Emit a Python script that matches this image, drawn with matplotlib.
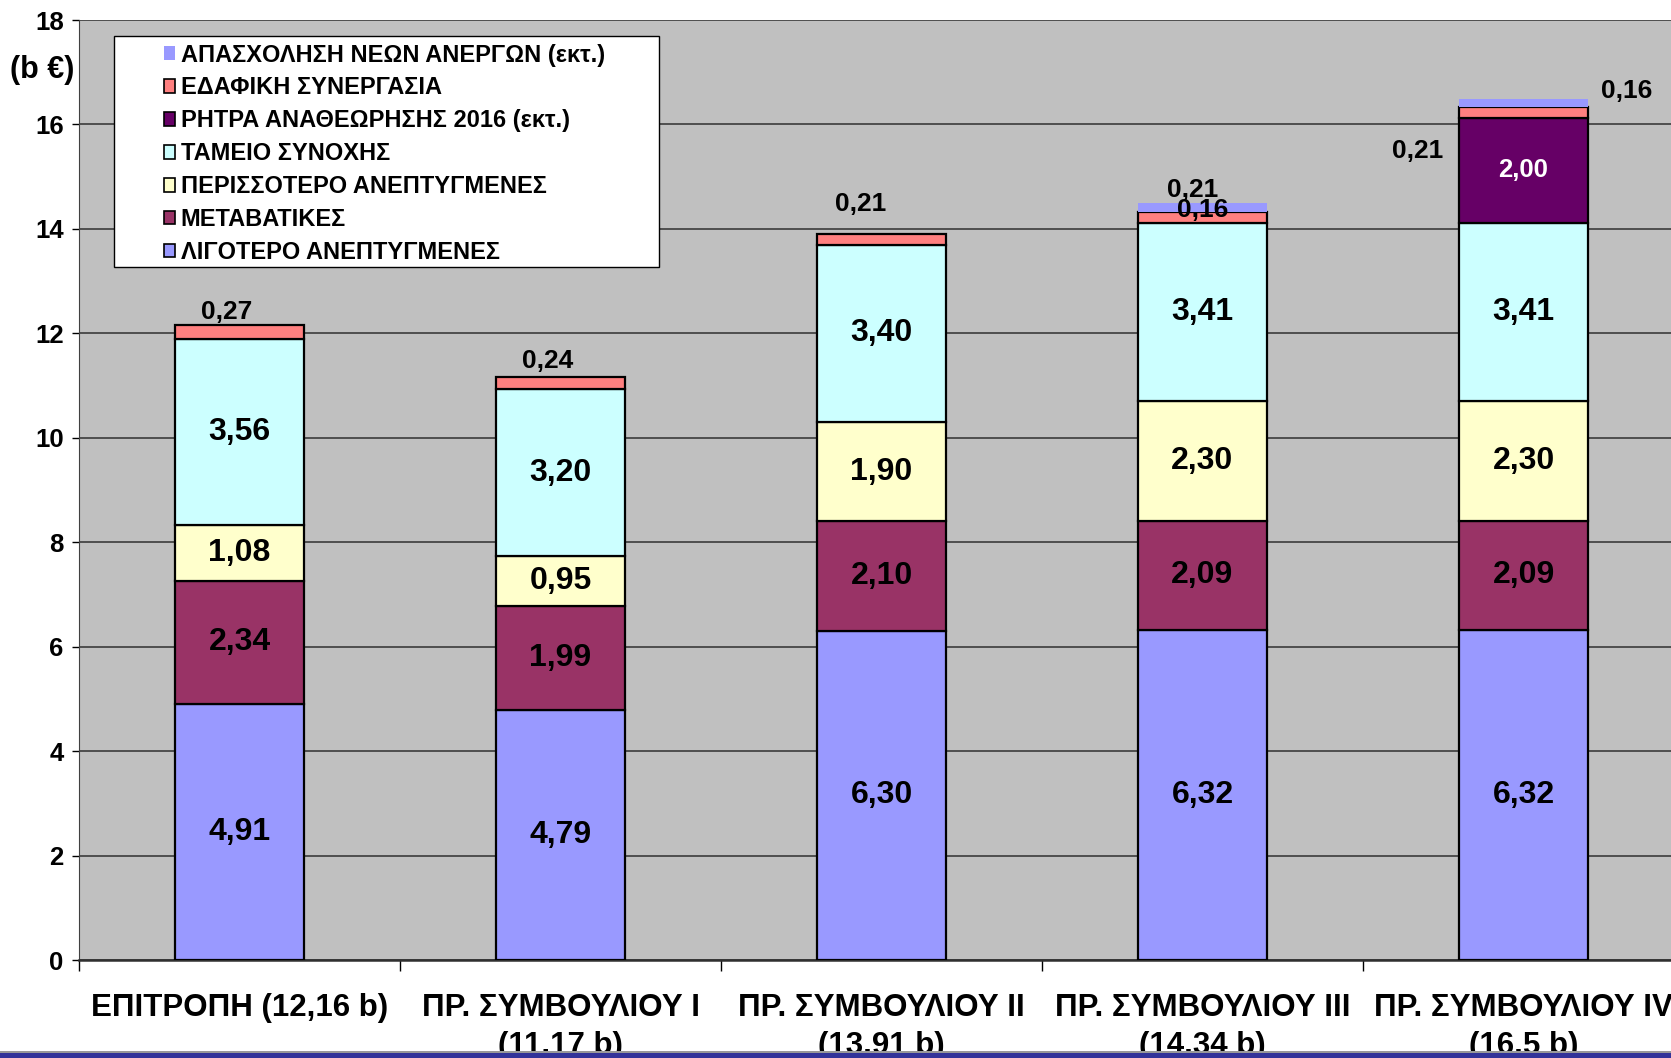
import numpy as np
import matplotlib.pyplot as plt
from matplotlib.patches import Rectangle, Patch

plt.rcParams['font.family'] = ['Liberation Sans', 'DejaVu Sans']
plt.rcParams['font.weight'] = 'bold'

categories = ['ΕΠΙΤΡΟΠΗ (12,16 b)', 'ΠΡ. ΣΥΜΒΟΥΛΙΟΥ I\n(11,17 b)',
              'ΠΡ. ΣΥΜΒΟΥΛΙΟΥ II\n(13,91 b)', 'ΠΡ. ΣΥΜΒΟΥΛΙΟΥ III\n(14,34 b)',
              'ΠΡ. ΣΥΜΒΟΥΛΙΟΥ IV\n(16,5 b)']
less_dev = [4.91, 4.79, 6.30, 6.32, 6.32]
transition = [2.34, 1.99, 2.10, 2.09, 2.09]
more_dev = [1.08, 0.95, 1.90, 2.30, 2.30]
cohesion = [3.56, 3.20, 3.40, 3.41, 3.41]
review = [0, 0, 0, 0, 2.00]
territorial = [0.27, 0.24, 0.21, 0.21, 0.21]
youth = [0, 0, 0, 0.16, 0.16]

names = ['ΛΙΓΟΤΕΡΟ ΑΝΕΠΤΥΓΜΕΝΕΣ', 'ΜΕΤΑΒΑΤΙΚΕΣ', 'ΠΕΡΙΣΣΟΤΕΡΟ ΑΝΕΠΤΥΓΜΕΝΕΣ',
         'ΤΑΜΕΙΟ ΣΥΝΟΧΗΣ', 'ΡΗΤΡΑ ΑΝΑΘΕΩΡΗΣΗΣ 2016 (εκτ.)', 'ΕΔΑΦΙΚΗ ΣΥΝΕΡΓΑΣΙΑ',
         'ΑΠΑΣΧΟΛΗΣΗ ΝΕΩΝ ΑΝΕΡΓΩΝ (εκτ.)']
colors = ['#9999FF', '#993366', '#FFFFCC', '#CCFFFF', '#660066', '#FF8080', '#9999FF']

W, H = 1671, 1058
fig = plt.figure(figsize=(W / 100, H / 100), dpi=100)
ax = fig.add_axes([79 / W, 1 - 960 / H, 5 * 321 / W, (960 - 20) / H])
ax.set_facecolor('#C0C0C0')

x = np.arange(len(categories))
series = [less_dev, transition, more_dev, cohesion, review, territorial, youth]
bottom = np.zeros(len(categories))
for i, (vals, c) in enumerate(zip(series, colors)):
    vals = np.array(vals)
    mask = vals > 0
    ec = 'none' if i == 6 else 'black'
    ax.bar(x[mask], vals[mask], 0.4, bottom=bottom[mask], color=c,
           edgecolor=ec, linewidth=1.6, zorder=3)
    if i < 5:
        for xi, v, b in zip(x, vals, bottom):
            if v > 0:
                fs = 18.5 if i == 4 else 23
                col = 'white' if i == 4 else 'black'
                ax.text(xi, b + v / 2, f'{v:.2f}'.replace('.', ','), ha='center',
                        va='center', fontsize=fs, color=col, fontweight='bold', zorder=4)
    bottom = bottom + vals

# small labels for territorial cooperation and youth employment
terr_pos = [(-0.04, 12.41), (-0.04, 11.47), (-0.065, 14.47), (-0.03, 14.75), (-0.33, 15.49)]
for xi, v, (dx, y) in zip(x, territorial, terr_pos):
    ax.text(xi + dx, y, f'{v:.2f}'.replace('.', ','), ha='center', va='center',
            fontsize=19, fontweight='bold', zorder=4)
youth_pos = {3: (0.0, 14.36), 4: (0.32, 16.64)}
for xi, v in zip(x, youth):
    if v > 0:
        dx, y = youth_pos[xi]
        ax.text(xi + dx, y, f'{v:.2f}'.replace('.', ','), ha='center', va='center',
                fontsize=19, fontweight='bold', zorder=5)

ax.set_ylim(0, 18)
ax.set_xlim(-0.5, 4.5)
ax.set_yticks(np.arange(0, 19, 2))
ax.yaxis.grid(True, color='#303030', linewidth=1.1, zorder=1)
ax.set_axisbelow(True)
ax.tick_params(axis='y', labelsize=18.5, length=5, width=1, pad=6)
ax.set_xticks(np.arange(-0.5, 5, 1))
ax.set_xticklabels([])
ax.tick_params(axis='x', which='major', length=8, width=1, direction='out')
ax.set_xticks(x, minor=True)
ax.set_xticklabels(categories, minor=True, fontsize=22.5, fontweight='bold',
                   linespacing=1.32)
ax.tick_params(axis='x', which='minor', length=0, pad=24)
for s in ['top', 'right']:
    ax.spines[s].set_visible(False)
ax.spines['left'].set_color('#404040')
ax.spines['bottom'].set_linewidth(1.8)
ax.spines['bottom'].set_color('#303030')
for lab in ax.get_yticklabels():
    lab.set_fontweight('bold')

fig.text(10 / W, 1 - 70 / H, '(b €)', fontsize=22, fontweight='bold', va='center')

# legend box
fig.add_artist(Rectangle((114 / W, 1 - 267 / H), (659 - 114) / W, (267 - 36) / H,
                         transform=fig.transFigure, facecolor='white',
                         edgecolor='black', linewidth=1, zorder=5))
handles = []
for i in range(6, -1, -1):
    ec = 'none' if i == 6 else 'black'
    handles.append(Patch(facecolor=colors[i], edgecolor=ec, linewidth=1.2))
leg = fig.legend(handles, names[::-1], loc='upper left',
                 bbox_to_anchor=(147 / W, 1 - 27 / H), frameon=False,
                 prop={'size': 17, 'weight': 'bold'}, handlelength=0.5,
                 handleheight=0.5, handletextpad=0.22, labelspacing=0.42,
                 borderpad=0.2)
leg.set_zorder(6)

# bottom strip
fig.add_artist(Rectangle((0, 0), 1, 7 / H, transform=fig.transFigure,
                         facecolor='#999999', edgecolor='none', zorder=10))
fig.add_artist(Rectangle((0, 0), 1, 5 / H, transform=fig.transFigure,
                         facecolor='#333399', edgecolor='none', zorder=11))

fig.savefig('out.png', dpi=100)
